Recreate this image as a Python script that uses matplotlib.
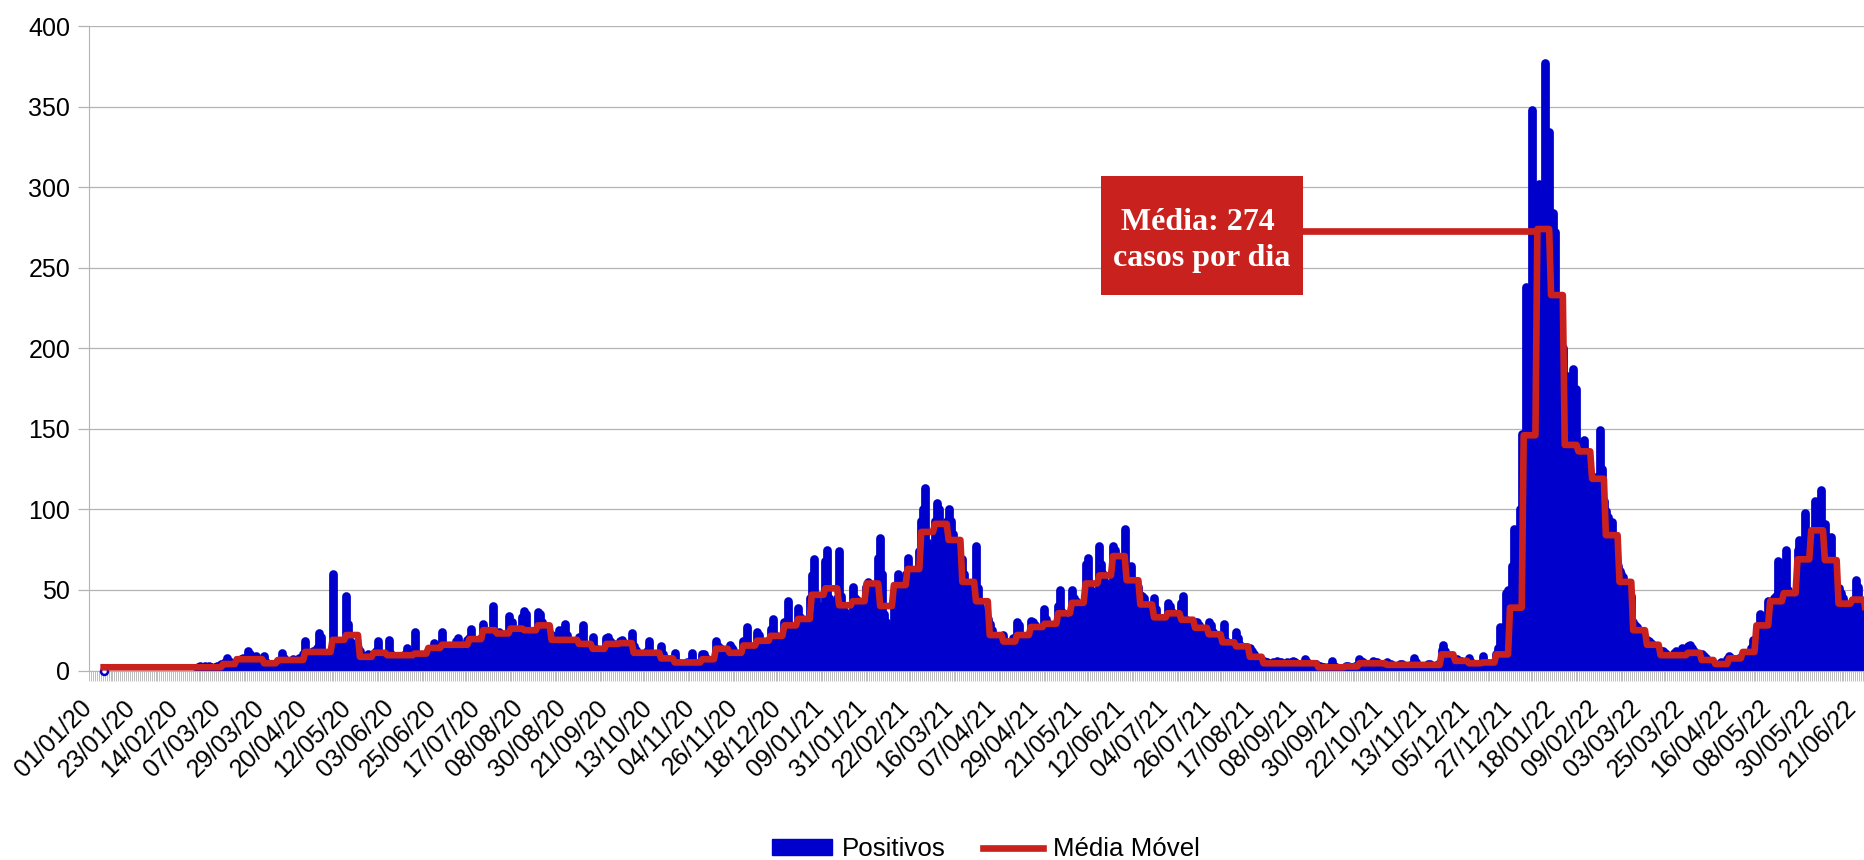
import numpy as np
import matplotlib
matplotlib.use("Agg")
import matplotlib.pyplot as plt
from matplotlib.patches import Rectangle, Patch
from matplotlib.lines import Line2D
from matplotlib.transforms import ScaledTranslation

plt.rcParams['font.family'] = ['Liberation Sans', 'DejaVu Sans']

# rotulos do eixo x (um a cada 22 dias, dia 0 = 01/01/20)
datas = ['01/01/20', '23/01/20', '14/02/20', '07/03/20', '29/03/20', '20/04/20',
         '12/05/20', '03/06/20', '25/06/20', '17/07/20', '08/08/20', '30/08/20',
         '21/09/20', '13/10/20', '04/11/20', '26/11/20', '18/12/20', '09/01/21',
         '31/01/21', '22/02/21', '16/03/21', '07/04/21', '29/04/21', '21/05/21',
         '12/06/21', '04/07/21', '26/07/21', '17/08/21', '08/09/21', '30/09/21',
         '22/10/21', '13/11/21', '05/12/21', '27/12/21', '18/01/22', '09/02/22',
         '03/03/22', '25/03/22', '16/04/22', '08/05/22', '30/05/22', '21/06/22']
passo_rotulo = 22

# casos positivos por dia, a partir do dia 7
inicio = 7
positivos = [
    0, 0, 0, 0, 0,
    0, 0, 0, 0, 0, 0, 0,  0, 0, 0, 0, 0, 0, 0,  0, 0, 0, 0, 0, 0, 0,
    0, 0, 0, 0, 0, 0, 0,  0, 0, 0, 0, 0, 0, 0,  0, 0, 0, 0, 0, 0, 0,
    0, 2, 3, 2, 1, 3, 2,  3, 2, 1, 2, 3, 2, 4,  2, 5, 8, 6, 4, 2, 3,
    5, 6, 7, 8, 6, 7, 12,  10, 8, 6, 9, 5, 6, 5,  9, 5, 4, 3, 4, 3, 4,
    5, 6, 11, 8, 6, 5, 6,  6, 7, 5, 6, 8, 6, 10,  18, 9, 8, 10, 12, 11, 14,
    23, 21, 9, 8, 10, 9, 7,  60, 14, 12, 17, 15, 11, 10,  46, 29, 18, 17, 16, 15, 14,
    12, 9, 8, 7, 10, 6, 8,  10, 12, 18, 11, 9, 10, 8,  9, 19, 10, 8, 7, 6, 8,
    9, 8, 10, 14, 11, 8, 7,  24, 10, 8, 9, 7, 8, 8,  12, 13, 14, 17, 15, 12, 15,
    24, 16, 14, 15, 13, 14, 16,  18, 20, 16, 14, 13, 12, 19,  20, 26, 18, 17, 16, 19, 20,
    29, 25, 22, 24, 20, 40, 15,  22, 24, 20, 22, 18, 20, 34,  28, 30, 25, 24, 22, 20, 33,
    37, 35, 24, 20, 18, 22, 19,  36, 35, 30, 28, 24, 22, 21,  22, 20, 18, 19, 25, 17, 12,
    29, 22, 18, 16, 17, 15, 16,  21, 18, 28, 15, 14, 12, 8,  21, 14, 12, 13, 10, 11, 13,
    20, 21, 18, 17, 14, 13, 12,  18, 19, 17, 15, 14, 13, 23,  15, 13, 11, 10, 9, 10, 9,
    12, 18, 11, 10, 9, 8, 9,  15, 10, 8, 6, 5, 4, 5,  11, 5, 4, 3, 4, 3, 5,
    4, 5, 11, 5, 4, 3, 3,  10, 10, 8, 6, 5, 5, 5,  18, 15, 14, 13, 12, 11, 12,
    16, 14, 13, 10, 8, 9, 8,  18, 16, 27, 14, 13, 11, 10,  24, 22, 18, 17, 16, 17, 15,
    26, 32, 22, 20, 17, 18, 16,  30, 28, 43, 27, 26, 20, 22,  39, 33, 30, 28, 25, 24, 45,
    59, 69, 45, 40, 38, 40, 38,  68, 75, 45, 42, 40, 42, 45,  74, 46, 38, 36, 30, 30, 30,
    52, 45, 44, 40, 38, 41, 41,  52, 55, 50, 48, 52, 51, 70,  82, 60, 35, 30, 26, 24, 23,
    46, 50, 60, 52, 48, 55, 60,  70, 58, 60, 62, 55, 62, 74,  93, 100, 113, 80, 75, 70, 71,
    93, 104, 100, 85, 82, 80, 93,  100, 93, 85, 75, 70, 75, 69,  69, 60, 55, 50, 48, 50, 53,
    77, 51, 40, 36, 32, 33, 32,  29, 25, 22, 20, 19, 20, 19,  22, 18, 16, 15, 16, 20, 19,
    30, 28, 20, 19, 18, 19, 20,  31, 30, 28, 24, 25, 26, 25,  38, 32, 28, 27, 26, 26, 27,
    40, 50, 36, 32, 30, 30, 30,  50, 45, 43, 40, 38, 39, 39,  66, 70, 55, 50, 45, 46, 46,
    77, 66, 60, 55, 52, 52, 51,  77, 75, 70, 66, 64, 57, 88,  60, 62, 65, 55, 50, 48, 52,
    47, 46, 45, 40, 38, 35, 36,  45, 38, 32, 30, 28, 29, 29,  42, 40, 36, 34, 33, 32, 32,
    42, 46, 32, 28, 26, 24, 24,  30, 30, 28, 26, 25, 24, 23,  30, 28, 24, 20, 19, 18, 20,
    22, 29, 18, 16, 14, 13, 11,  24, 20, 16, 14, 12, 10, 9,  14, 12, 10, 8, 6, 5, 5,
    6, 5, 5, 4, 4, 5, 4,  6, 5, 5, 4, 4, 5, 4,  5, 6, 5, 4, 4, 4, 4,
    7, 5, 4, 4, 4, 4, 4,  3, 3, 2, 2, 1, 2, 1,  6, 3, 2, 1, 1, 1, 1,
    3, 3, 2, 2, 2, 3, 2,  7, 6, 5, 4, 4, 3, 4,  6, 5, 5, 4, 4, 4, 4,
    5, 4, 4, 3, 3, 3, 3,  4, 4, 3, 3, 3, 3, 4,  8, 5, 3, 3, 2, 2, 2,
    4, 4, 3, 3, 3, 4, 4,  13, 16, 12, 9, 8, 6, 6,  7, 7, 6, 6, 5, 5, 6,
    8, 5, 4, 4, 4, 3, 4,  9, 5, 4, 4, 4, 4, 5,  10, 14, 27, 18, 25, 48, 50,
    45, 65, 88, 60, 65, 100, 147,  140, 238, 180, 210, 348, 250, 292,
    260, 302, 280, 250, 377, 300, 334,  260, 284, 272, 230, 210, 190, 200,
    170, 183, 160, 150, 187, 170, 175,  140, 130, 120, 143, 125, 110, 115,
    105, 100, 120, 115, 149, 125, 105,  99, 95, 92, 92, 70, 75, 65,
    62, 60, 58, 55, 52, 50, 46,  30, 28, 27, 25, 22, 21, 20,  19, 18, 17, 16, 15, 14, 12,
    12, 12, 11, 10, 9, 8, 5,  11, 12, 10, 9, 14, 8, 7,  15, 16, 14, 12, 10, 6, 4,
    10, 9, 8, 6, 5, 4, 3,  4, 2, 3, 5, 4, 3, 7,  9, 8, 7, 6, 7, 8, 8,
    7, 8, 9, 10, 14, 19, 15,  18, 22, 35, 28, 30, 20, 43,  38, 40, 45, 46, 68, 36, 30,
    55, 75, 50, 45, 40, 38, 35,  75, 81, 60, 55, 98, 60, 54,  80, 85, 105, 90, 70, 112, 68,
    91, 75, 70, 83, 60, 55, 46,  51, 48, 45, 40, 38, 36, 34,  40, 44, 56, 52, 42, 38, 35,
    34, 33,
]

# media movel semanal (semanas comecam no dia 5)
inicio_semana = 5
media_semanal = [
    2, 2, 2, 2, 2, 2, 2, 2, 2, 4, 7, 7, 4.5, 6.5, 6.5, 11.5, 11.5, 19, 22, 8.5,
    11, 9.5, 9.5, 10.5, 14, 16, 16, 19.5, 25, 23, 26, 25, 28, 19, 19, 16.5, 13.5,
    16.5, 17, 11, 11, 7.5, 5, 5, 7, 13.5, 11, 15.5, 18.5, 21.5, 28, 32, 47, 51,
    40.5, 43, 54, 40, 53, 63, 86, 91, 81, 55, 43, 22, 18, 22, 27, 29, 35.5, 42,
    54, 59, 71, 56, 41, 33, 35.5, 31.5, 26.5, 22.5, 17.5, 15, 8.5, 4.5, 4.5, 4.5,
    4.5, 2, 2, 2.5, 4.5, 4.5, 3.5, 3.5, 3.5, 3.5, 10, 6, 4.5, 5, 10, 39, 146, 274,
    233, 140, 136, 119, 84, 55, 25, 16, 9.5, 9.5, 11, 6.5, 4, 7.5, 11.5, 28, 43,
    48, 69, 87, 68.5, 41.5, 44, 35,
]

anotacao = ['Média: 274', 'casos por dia']
valor_anotado = 273

azul = '#0000cc'
vermelho = '#c9211e'
cinza = '#b3b3b3'

dias = np.arange(inicio, inicio + len(positivos))
pos = np.array(positivos, dtype=float)
media = np.repeat(np.array(media_semanal, dtype=float), 7)
dias_media = np.arange(inicio_semana, inicio_semana + len(media))
sel = (dias_media >= inicio) & (dias_media <= dias[-1])

W, H = 1865, 860
fig = plt.figure(figsize=(W / 100, H / 100), dpi=100)
ax = fig.add_axes([89 / W, (H - 670.5) / H, 1 - 89 / W, (670.5 - 26) / H])

nz = pos > 0
ax.vlines(dias[nz], 0, pos[nz], color=azul, lw=6.3, capstyle='round', zorder=2)
ax.plot(dias[0], 0, 'o', ms=5, mfc='white', mec=azul, mew=1.8, zorder=3, clip_on=False)
ax.plot(dias_media[sel], media[sel], color=vermelho, lw=4.8, zorder=4,
        solid_joinstyle='round')

# caixa de destaque do pico
ax.add_patch(Rectangle((516.7, 233.0), 103.3, 73.7, facecolor=vermelho,
                       edgecolor='none', zorder=5))
ax.plot([620, 738], [valor_anotado, valor_anotado], color=vermelho, lw=4.8, zorder=4)
serif = ['Liberation Serif', 'DejaVu Serif']
ax.text(566.5, 273.2, anotacao[0], ha='center', va='baseline', color='white',
        fontsize=23, fontweight='bold', family=serif, zorder=6)
ax.text(568.3, 251.2, anotacao[1], ha='center', va='baseline', color='white',
        fontsize=23, fontweight='bold', family=serif, zorder=6)

ax.set_xlim(-0.5, 907.5)
ax.set_ylim(0, 400)
ax.set_yticks(np.arange(0, 401, 50))
ax.yaxis.grid(True, color=cinza, lw=0.9)
ax.set_axisbelow(True)
ax.tick_params(axis='y', length=8, width=0.9, color=cinza, pad=5.5, labelsize=18)

ax.set_xticks(np.arange(len(datas)) * passo_rotulo)
ax.set_xticklabels(datas, rotation=45, ha='right', va='top', rotation_mode='anchor',
                   fontsize=18)
ax.set_xticks(np.arange(-0.5, 908, 1), minor=True)
ax.tick_params(axis='x', which='major', length=0, pad=18)
ax.tick_params(axis='x', which='minor', length=7.2, width=0.6, color=cinza)
desloca = ScaledTranslation(-0.1, 0, fig.dpi_scale_trans)
for rot in ax.get_xticklabels():
    rot.set_transform(rot.get_transform() + desloca)

for lado in ['top', 'right']:
    ax.spines[lado].set_visible(False)
ax.spines['left'].set_color(cinza)
ax.spines['bottom'].set_color(cinza)

fig.legend(handles=[Patch(color=azul, label='Positivos'),
                    Line2D([], [], color=vermelho, lw=4.8, label='Média Móvel')],
           loc='center', bbox_to_anchor=(986 / W, 1 - 849 / H), ncol=2,
           frameon=False, fontsize=18.6, handlelength=2.3, handleheight=0.55,
           handletextpad=0.4, columnspacing=1.45)

fig.savefig('out.png', dpi=100)
